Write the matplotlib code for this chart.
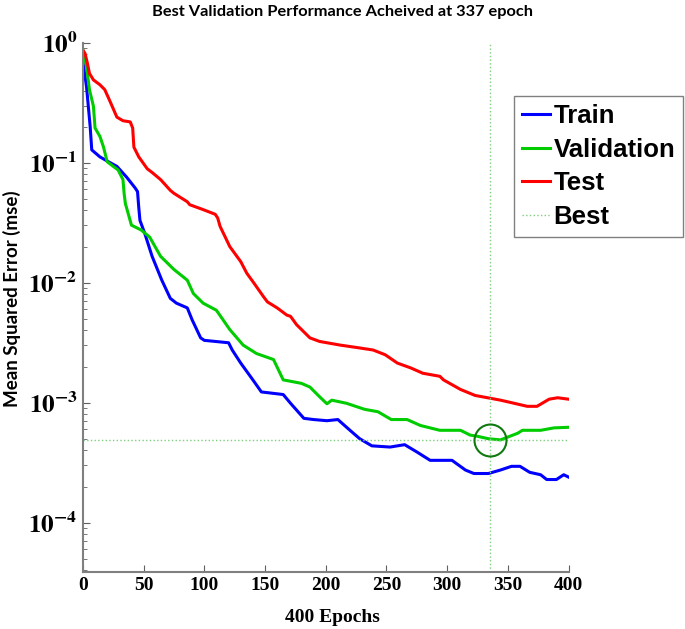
import matplotlib
matplotlib.use("Agg")
import matplotlib.pyplot as plt

# values
train_epochs = [0, 3, 6, 7.3, 14, 21, 28, 36, 43, 45, 46, 47, 51, 57, 65, 72, 77, 86, 90, 97,
                100, 120, 123, 130, 140, 147, 165, 171, 182, 190, 201, 210, 220, 228, 238, 253,
                265, 275, 286, 304, 315, 322, 334, 344, 353, 360, 368, 377, 382, 390, 396, 400]
train_mse = [0.70, 0.43, 0.2, 0.128, 0.112, 0.102, 0.0933, 0.0759, 0.0617, 0.0575, 0.0427, 0.0331,
             0.0257, 0.0166, 0.0105, 0.00741, 0.00676, 0.00617, 0.0049, 0.00347,
             0.00331, 0.00316, 0.00275, 0.00214, 0.00155, 0.00123, 0.00117, 0.00099, 0.000741,
             0.000724, 0.000708, 0.000724, 0.000589, 0.000501, 0.000437, 0.000427,
             0.000447, 0.000389, 0.000331, 0.000331, 0.000275, 0.000257, 0.000257, 0.000275,
             0.000295, 0.000295, 0.000263, 0.000251, 0.000229, 0.000229, 0.000251, 0.00024]

val_epochs = [0, 3, 5.4, 8.7, 10, 14, 17, 20, 25, 29, 33, 34, 35, 40, 48, 55, 64, 75, 86, 91,
              99, 110, 121, 132, 143, 157, 165, 180, 187, 195, 201, 205, 217, 232, 243, 254,
              267, 278, 294, 311, 319, 325, 334, 344, 349, 358, 362, 377, 388, 400]
val_mse = [0.871, 0.631, 0.407, 0.295, 0.195, 0.166, 0.135, 0.102, 0.0933, 0.0871, 0.0724, 0.055,
           0.0457, 0.0302, 0.0275, 0.024, 0.0166, 0.0129, 0.0105, 0.00813,
           0.00676, 0.00589, 0.00407, 0.00302, 0.00257, 0.00229, 0.00155, 0.00145, 0.00135,
           0.00112, 0.00098, 0.00105, 0.00099, 0.000881, 0.000841, 0.000724,
           0.000724, 0.000646, 0.000589, 0.000589, 0.000537, 0.000525, 0.000501, 0.00049,
           0.000513, 0.000556, 0.000589, 0.000589, 0.000617, 0.000624]

test_epochs = [0, 1.8, 3.7, 5.4, 8.7, 14, 18, 22, 28, 33, 39, 41, 42, 46, 53, 57, 64, 72, 75,
               86, 88, 99, 109, 111, 113, 121, 130, 135, 141, 149, 152, 160, 168, 171, 176,
               187, 195, 212, 226, 239, 249, 259, 270, 280, 294, 297, 311, 323, 344, 355,
               366, 374, 384, 391, 400]
test_mse = [0.871, 0.813, 0.676, 0.556, 0.49, 0.447, 0.407, 0.331, 0.24, 0.224, 0.219, 0.195,
            0.135, 0.112, 0.0891, 0.083, 0.0724, 0.0589, 0.0556, 0.0473, 0.0447, 0.0407,
            0.0372, 0.0347, 0.0295, 0.02, 0.015, 0.012, 0.00989, 0.00759, 0.00692, 0.00617,
            0.00537, 0.00525, 0.00447, 0.00347, 0.00324, 0.00302, 0.00288, 0.00275, 0.00251,
            0.00214, 0.00195, 0.00176, 0.00166, 0.00155, 0.00129, 0.00115, 0.00105, 0.00099,
            0.000933, 0.000933, 0.00107, 0.0011, 0.00107]

best_epoch = 335
best_mse = 4.89e-4

plt.rcParams['mathtext.fontset'] = 'stix'

fig = plt.figure(figsize=(6.85, 6.29), dpi=100)
ax = fig.add_axes([0.121, 0.091, 0.709, 0.841])

ax.plot(train_epochs, train_mse, color='#0000ff', lw=2.2, label='Train')
ax.plot(val_epochs, val_mse, color='#00cc00', lw=2.2, label='Validation')
ax.plot(test_epochs, test_mse, color='#ff0000', lw=2.2, label='Test')
ax.axvline(best_epoch, color='#7fcf7f', lw=1, ls=':', label='Best')
ax.axhline(best_mse, color='#7fcf7f', lw=1, ls=':')
ax.plot([best_epoch], [best_mse], 'o', ms=23, mfc='none', mec='#107a10', mew=1.5)

ax.set_yscale('log')
ax.set_xlim(0, 400)
ax.set_ylim(3.9e-5, 1.0)
ax.set_xticks([0, 50, 100, 150, 200, 250, 300, 350, 400])
ax.set_xticklabels([str(v) for v in [0, 50, 100, 150, 200, 250, 300, 350, 400]],
                   fontfamily='Liberation Serif', fontweight='bold', fontsize=14)
ax.set_yticks([1e-4, 1e-3, 1e-2, 1e-1, 1])
ax.set_yticklabels([r'$\mathbf{10^{-4}}$', r'$\mathbf{10^{-3}}$', r'$\mathbf{10^{-2}}$',
                    r'$\mathbf{10^{-1}}$', r'$\mathbf{10^{0}}$'], fontsize=18)

for s in ['top', 'right']:
    ax.spines[s].set_visible(False)
for s in ['left', 'bottom']:
    ax.spines[s].set_color('#808080')
    ax.spines[s].set_linewidth(1.5)
ax.tick_params(direction='in', which='both', colors='#606060', labelcolor='black')
ax.tick_params(which='major', length=5, pad=4)
ax.tick_params(which='minor', length=3)

leg = ax.legend(loc='upper right', bbox_to_anchor=(0.997, 0.847), bbox_transform=fig.transFigure,
                prop={'family': 'Liberation Sans', 'weight': 'bold', 'size': 18.5},
                handlelength=1.1, handletextpad=0.12, labelspacing=0.38, borderpad=0.3,
                borderaxespad=0, fancybox=False, framealpha=1)
leg.get_frame().set_edgecolor('#808080')
leg.get_frame().set_linewidth(1)

fig.text(0.5, 0.981, 'Best Validation Performance Acheived at 337 epoch', ha='center', va='center',
         fontfamily='Lato', fontweight='bold', fontsize=11.8)
fig.text(0.018, 0.525, 'Mean Squared Error (mse)', rotation=90, ha='center', va='center',
         fontfamily='Lato', fontweight='bold', fontsize=13.5)
fig.text(0.486, 0.018, '400 Epochs', ha='center', va='center',
         fontfamily='Liberation Serif', fontweight='bold', fontsize=14)

fig.savefig('out.png', dpi=100)
